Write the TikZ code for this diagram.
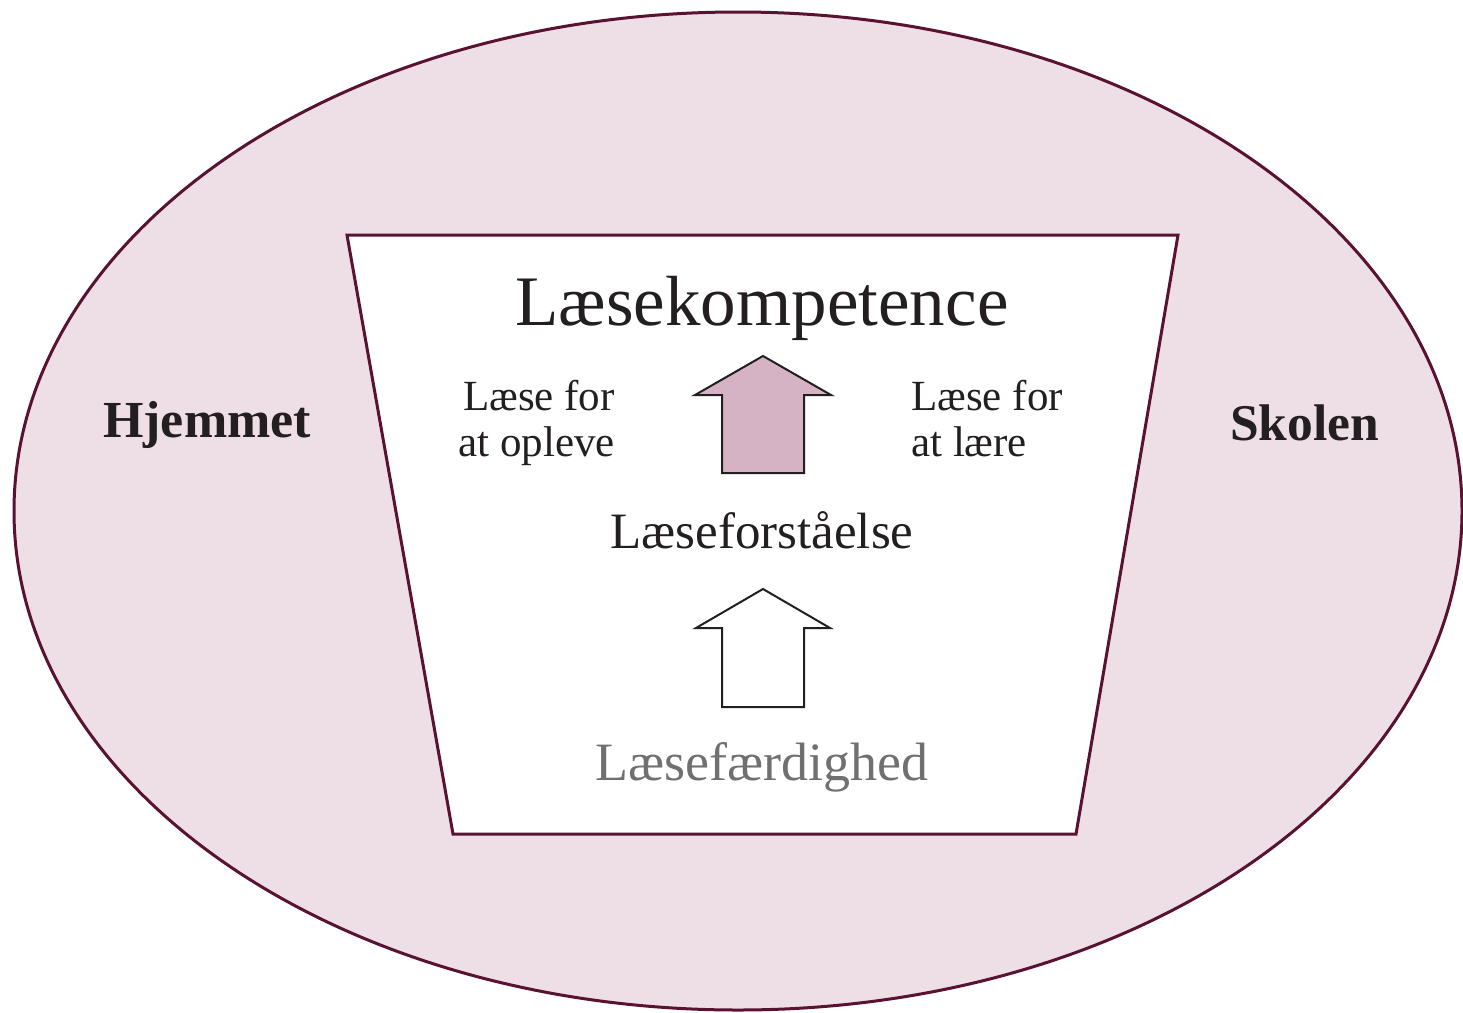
\documentclass[tikz,border=0pt]{standalone}
\usepackage{fontspec}
\setmainfont{Liberation Serif}
\definecolor{rim}{HTML}{5A1232}
\definecolor{pinkbg}{HTML}{EEDFE6}
\definecolor{arrowfill}{HTML}{D5B3C4}
\definecolor{ink}{HTML}{231F20}
\definecolor{graytext}{HTML}{707072}
\begin{document}
\begin{tikzpicture}[x=1pt,y=-1pt,
  lbl/.style={inner sep=0pt,anchor=base,text=ink},
  outline/.style={draw=rim,line width=3pt,line join=miter},
  arrowline/.style={draw=ink,line width=2pt,line join=miter}]
\useasboundingbox (0,0) rectangle (1463,1012);
% outer ellipse
\path[outline,fill=pinkbg] (738,511) ellipse [x radius=724, y radius=499];
% trapezoid
\path[outline,fill=white] (347,235) -- (1178,235) -- (1076,834) -- (453,834) -- cycle;
% filled arrow
\path[arrowline,fill=arrowfill] (763,356) -- (831,395) -- (804,395) -- (804,473) -- (722,473) -- (722,395) -- (695,395) -- cycle;
% outline arrow
\path[arrowline,fill=white] (763,589) -- (830,628) -- (804,628) -- (804,707) -- (722,707) -- (722,628) -- (696,628) -- cycle;
% texts
\node[lbl,font=\fontsize{71}{80}\selectfont] (komp) at (762,325) {Læsekompetence};
\node[lbl,font=\fontsize{43}{46}\selectfont,align=right,anchor=base east] (opleve) at (615,456) {Læse for\\at opleve};
\node[lbl,font=\fontsize{43}{46}\selectfont,align=left,anchor=base west] (laere) at (911,456) {Læse for\\at lære};
\node[lbl,font=\fontsize{52}{56}\selectfont\bfseries,anchor=base west] (hjem) at (103,437) {Hjemmet};
\node[lbl,font=\fontsize{51.5}{56}\selectfont\bfseries,anchor=base west] (skole) at (1230,440) {Skolen};
\node[lbl,font=\fontsize{51}{56}\selectfont] (forst) at (762,548) {Læseforståelse};
\node[lbl,font=\fontsize{54}{60}\selectfont,text=graytext] (faerd) at (762,780) {Læsefærdighed};
\end{tikzpicture}
\end{document}
